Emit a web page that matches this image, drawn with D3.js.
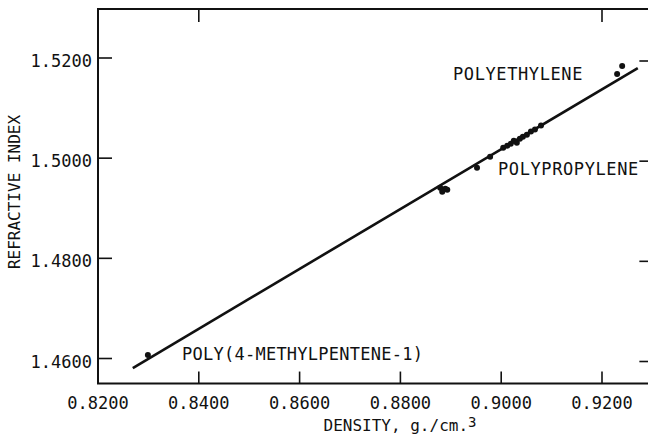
<!DOCTYPE html>
<html>
<head>
<meta charset="utf-8">
<script src="https://cdn.jsdelivr.net/npm/d3@7"></script>
<style>
  body { margin: 0; background: #fff; }
  svg text { font-family: "DejaVu Sans Mono", monospace; fill: #111; }
</style>
</head>
<body>
<div id="chart"></div>
<script>
// measured points (density g/cm3, refractive index)
const densities = [0.8299, 0.8879, 0.8889, 0.8883, 0.8893, 0.8952, 0.8978,
  0.9004, 0.9012, 0.9019, 0.9025, 0.9031, 0.9037, 0.9043, 0.9051, 0.9059, 0.9067, 0.9079,
  0.9230, 0.9240];
const refIndex = [1.4607, 1.4941, 1.4939, 1.4933, 1.4937, 1.4981, 1.5003,
  1.5021, 1.5025, 1.5029, 1.5035, 1.5031, 1.5039, 1.5043, 1.5047, 1.5053, 1.5057, 1.5065,
  1.5168, 1.5184];

// fitted straight line
const fitDensity = [0.8269, 0.9271];
const fitIndex = [1.4581, 1.5180];

const xTicks = [0.82, 0.84, 0.86, 0.88, 0.90, 0.92];
const yTicks = [1.46, 1.48, 1.50, 1.52];
const topTicks = [0.84, 0.92];
const labels = ["POLYETHYLENE", "POLYPROPYLENE", "POLY(4-METHYLPENTENE-1)"];

const W = 648, H = 438;
const svg = d3.select('#chart').append('svg')
  .attr('width', W).attr('height', H);

const x = d3.scaleLinear().domain([0.82, 0.92]).range([98, 602]);
const y = d3.scaleLinear().domain([1.46, 1.52]).range([358.5, 58]);

const xLeft = x(0.82), xRight = x(0.9292), yTop = y(1.5298), yBottom = y(1.455);

// frame
svg.append('path')
  .attr('d', 'M' + xRight + ',' + yTop + 'H' + xLeft + 'V' + yBottom + 'H' + xRight)
  .attr('fill', 'none').attr('stroke', '#111').attr('stroke-width', 2);

// ticks (inward)
const tk = svg.append('g').attr('stroke', '#111').attr('stroke-width', 1.6);
tk.selectAll('.xb').data(xTicks.slice(1)).enter().append('line')
  .attr('x1', d => x(d)).attr('x2', d => x(d))
  .attr('y1', yBottom).attr('y2', yBottom - 12);
tk.selectAll('.xt').data(topTicks).enter().append('line')
  .attr('x1', d => x(d)).attr('x2', d => x(d))
  .attr('y1', yTop).attr('y2', yTop + 13);
tk.selectAll('.yl').data(yTicks).enter().append('line')
  .attr('x1', xLeft).attr('x2', xLeft + 14)
  .attr('y1', d => y(d)).attr('y2', d => y(d));
tk.selectAll('.yr').data(yTicks).enter().append('line')
  .attr('x1', xRight).attr('x2', xRight - 9)
  .attr('y1', d => y(d) + 3).attr('y2', d => y(d) + 3);

// tick labels
svg.append('g').selectAll('text').data(xTicks).enter().append('text')
  .attr('x', d => x(d)).attr('y', 409)
  .attr('text-anchor', 'middle').style('font-size', '17px')
  .text(d => d3.format('.4f')(d));
svg.append('g').selectAll('text').data(yTicks).enter().append('text')
  .attr('x', 92).attr('y', d => y(d) + 9)
  .attr('text-anchor', 'end').style('font-size', '17px')
  .text(d => d3.format('.4f')(d));

// axis titles
const xt = svg.append('text').attr('x', 400).attr('y', 431)
  .attr('text-anchor', 'middle').style('font-size', '16px');
xt.append('tspan').text('DENSITY, g./cm.');
xt.append('tspan').attr('dy', -4).style('font-size', '14px').text('3');
svg.append('text')
  .attr('transform', 'translate(20,192) rotate(-90)')
  .attr('text-anchor', 'middle').style('font-size', '16px')
  .text('REFRACTIVE INDEX');

// fit line
const line = d3.line().x(d => x(d[0])).y(d => y(d[1]));
svg.append('path')
  .attr('d', line(d3.zip(fitDensity, fitIndex)))
  .attr('fill', 'none').attr('stroke', '#111').attr('stroke-width', 2.6);

// points
svg.append('g').selectAll('circle').data(d3.zip(densities, refIndex)).enter().append('circle')
  .attr('cx', d => x(d[0])).attr('cy', d => y(d[1]))
  .attr('r', 3).attr('fill', '#111');

// annotations
const labelPos = [[0.89044, 1.5157], [0.89937, 1.4967], [0.83667, 1.4597]];
const labelSpacing = [0.6, 0.6, 0.25];
svg.append('g').selectAll('text').data(labels).enter().append('text')
  .attr('x', (d, i) => x(labelPos[i][0])).attr('y', (d, i) => y(labelPos[i][1]))
  .style('font-size', '17px').style('letter-spacing', (d, i) => labelSpacing[i] + 'px')
  .text(d => d);
</script>
</body>
</html>
